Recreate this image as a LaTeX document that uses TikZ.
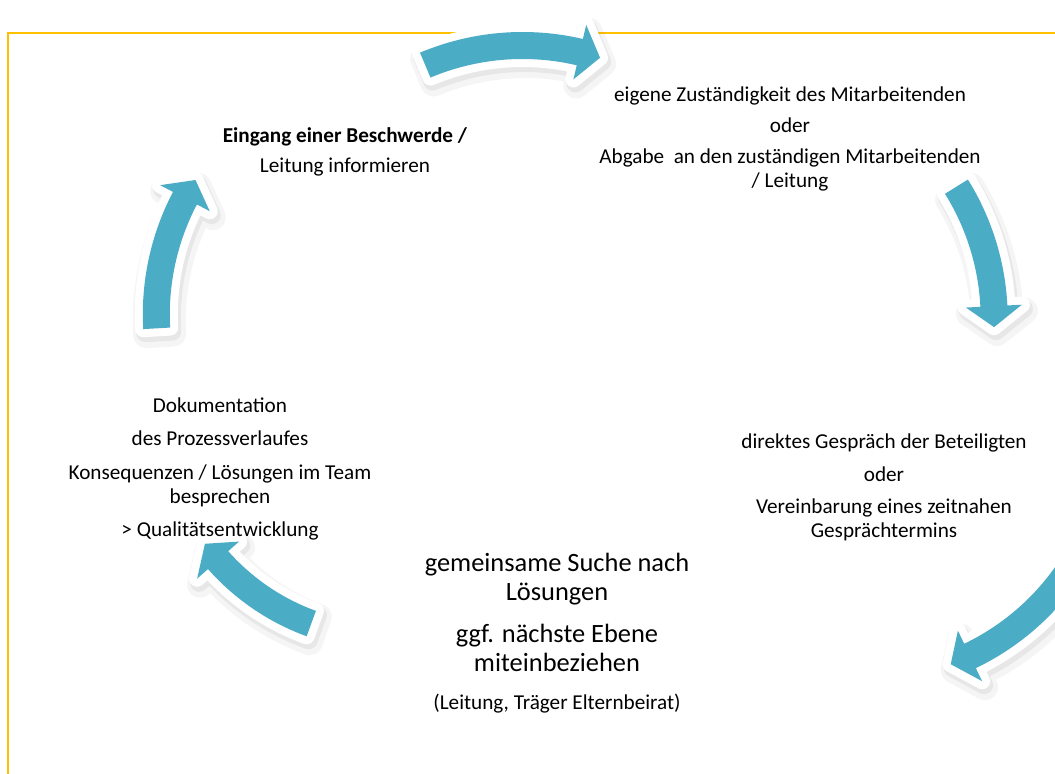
\documentclass[tikz,border=0pt]{standalone}
\usepackage{fontspec}
\setmainfont{Carlito}
\usepackage{tikz}
\usetikzlibrary{positioning}

\definecolor{pfeilblau}{RGB}{75,172,198}
\definecolor{rahmengelb}{RGB}{255,192,0}

% Kreisbogenpfeil: {Mittelpunkt}{Radius}{Startwinkel}{Endwinkel}
\newcommand{\kreispfeil}[4]{%
  \begin{scope}[shift={#1}]
    \pgfmathsetmacro{\pfra}{#2+13.5}
    \pgfmathsetmacro{\pfri}{#2-13.5}
    \pgfmathsetmacro{\pfka}{#2+28}
    \pgfmathsetmacro{\pfki}{#2-28}
    \pgfmathsetmacro{\pfspitze}{#4-21/#2*57.3}
    \foreach \lage in {pfeilschattenweit, pfeilschatten, pfeilrand, pfeilkoerper}
      \path[\lage] (#3:\pfra) arc[start angle=#3, end angle=#4, radius=\pfra]
        -- (#4:\pfka) -- (\pfspitze:#2) -- (#4:\pfki) -- (#4:\pfri)
        arc[start angle=#4, end angle=#3, radius=\pfri] -- cycle;
  \end{scope}}

\begin{document}
\begin{tikzpicture}[x=0.5pt, y=0.5pt,
    textblock/.style={align=center, font=\fontsize{10.6}{12}\selectfont},
    grossblock/.style={align=center, font=\fontsize{13.2}{14.5}\selectfont},
    pfeilschattenweit/.style={draw=black, line width=13pt, line join=round,
      draw opacity=0.04, shift={(3,-6)}},
    pfeilschatten/.style={draw=black, line width=9pt, line join=round,
      draw opacity=0.06, shift={(2,-4)}},
    pfeilrand/.style={fill=white, draw=white, line width=8pt, line join=round},
    pfeilkoerper/.style={fill=pfeilblau}]
    \useasboundingbox (0,0) rectangle (1055,774);
    \clip (0,0) rectangle (1055,774);

    % 1. Rahmen
    \draw[rahmengelb, line width=1pt] (8,0) -- (8,741) -- (1055,741);

    % 2. Pfeile im Uhrzeigersinn
    \kreispfeil{(522.5,477.5)}{251}{112.8}{76.8}
    \kreispfeil{(744.2,455.2)}{250}{31.9}{2.9}
    \kreispfeil{(862,343.5)}{250}{-29}{-64.4}
    \kreispfeil{(389.6,365.6)}{229}{250}{221.5}
    \kreispfeil{(406.3,459.6)}{250}{183.2}{152.3}

    % 3. Texte
    \node[textblock] (eingang) at (345,622)
        {\textbf{Eingang einer Beschwerde /}\\[3pt] Leitung informieren};
    \node[textblock] (zustaendig) at (790,635.5)
        {eigene Zuständigkeit des Mitarbeitenden\\[3.5pt] oder\\[3.5pt]
         Abgabe\ \ an den zuständigen Mitarbeitenden\\ / Leitung};
    \node[textblock] (gespraech) at (884,286.5)
        {direktes Gespräch der Beteiligten\\[4.5pt] oder\\[4pt]
         Vereinbarung eines zeitnahen\\ Gesprächtermins};
    \node[textblock] (doku) at (220,305)
        {Dokumentation\\[4.5pt] des Prozessverlaufes\\[5pt]
         Konsequenzen / Lösungen im Team\\ besprechen\\[4.5pt]
         > Qualitätsentwicklung};
    \node[grossblock] (loesung) at (557,141)
        {gemeinsame Suche nach\\ Lösungen\\[6.5pt] ggf. nächste Ebene\\
         miteinbeziehen\\[4.5pt] {\fontsize{10.6}{12}\selectfont (Leitung, Träger Elternbeirat)}};
\end{tikzpicture}
\end{document}
